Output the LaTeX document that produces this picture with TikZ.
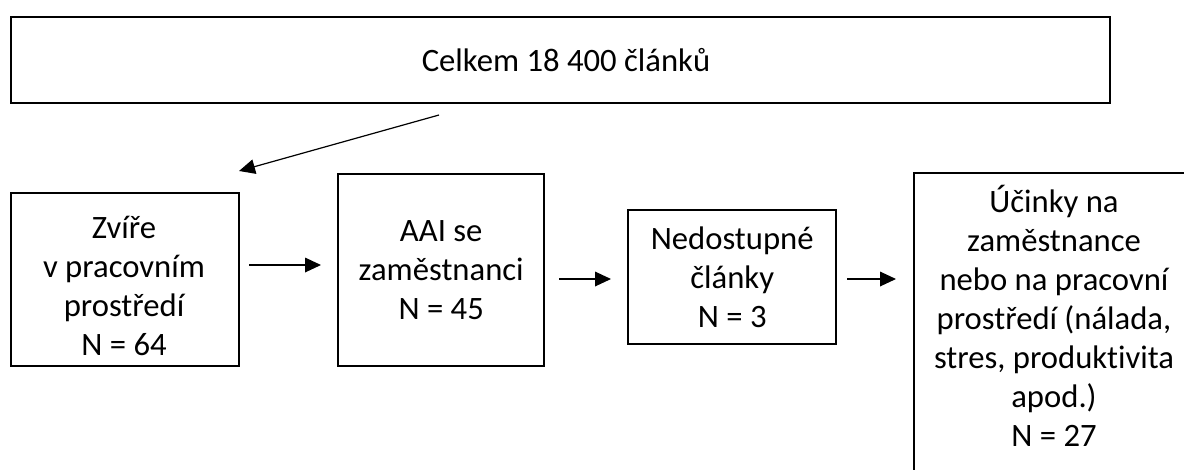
\documentclass[tikz,border=0pt]{standalone}
\usepackage{fontspec}
\setmainfont[Ligatures=NoCommon]{Carlito}
\usetikzlibrary{arrows.meta}
\begin{document}
\begin{tikzpicture}[x=0.75pt,y=-0.75pt,
  txt/.style={font=\fontsize{24.5pt}{29.3pt}\selectfont, align=center, inner sep=0pt},
  box/.style={draw=black, line width=1.8pt, fill=white, rectangle, anchor=north west, inner sep=0pt, txt},
  conn/.style={line width=0.9pt, -{Triangle[length=12pt,width=11pt]}}]
\useasboundingbox (0,0) rectangle (1184,469);
\clip (0,0) rectangle (1184,469);
\node[box, minimum width=824.25pt, minimum height=64.5pt] (top) at (10,16) {};
\node[txt] (toptext) at (566,60) {Celkem 18 400 článků};
\node[box, minimum width=171pt, minimum height=129.75pt] (b1) at (10,192) {};
\node[txt] (b1t) at (124,286) {Zvíře\\v pracovním\\prostředí\\N = 64};
\node[box, minimum width=154.5pt, minimum height=144pt] (b2) at (337,173)
  {AAI se\\zaměstnanci\\N = 45};
\node[box, minimum width=156pt, minimum height=100.5pt] (b3) at (627,209)
  {Nedostupné\\články\\N = 3};
\node[box, minimum width=211.5pt, minimum height=231pt] (b4) at (913,172) {};
\node[txt] (b4t) at (1054,316)
  {Účinky na\\zaměstnance\\nebo na pracovní\\prostředí (nálada,\\stres, produktivita\\apod.)\\N = 27};
\coordinate (a0s) at (439,115);
\coordinate (a0e) at (239,171);
\coordinate (a1s) at (249,265);
\coordinate (a1e) at (321,265);
\coordinate (a2s) at (559,279);
\coordinate (a2e) at (611,279);
\coordinate (a3s) at (847,279);
\coordinate (a3e) at (896,279);
\draw[conn] (a0s) -- (a0e);
\draw[conn] (a1s) -- (a1e);
\draw[conn] (a2s) -- (a2e);
\draw[conn] (a3s) -- (a3e);
\end{tikzpicture}
\end{document}
